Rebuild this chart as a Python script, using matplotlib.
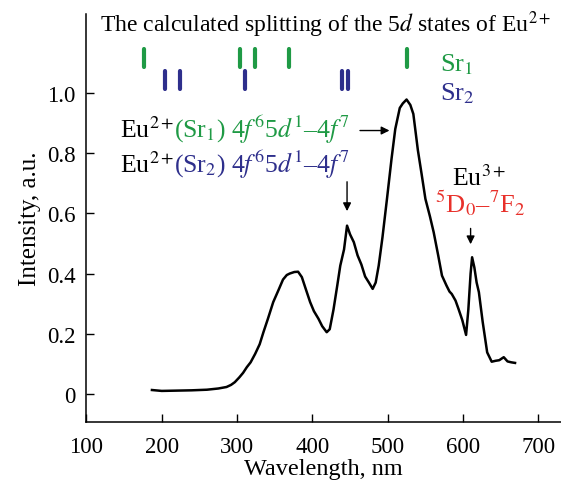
import numpy as np
import matplotlib
matplotlib.use("Agg")
import matplotlib.pyplot as plt
import matplotlib.transforms as mtransforms

GREEN = "#1f9a45"
BLUE = "#2e2f8c"
RED = "#e8302a"

# emission spectrum
wavelength = [187, 200, 220, 240, 260, 275, 286, 292, 297, 303, 308, 313, 318, 324,
              330, 335, 341, 348, 355, 361, 366, 370, 376, 381, 386, 391, 397, 402,
              408, 413, 419, 423, 428, 433, 437, 442, 446, 450, 455, 460, 465, 470,
              475, 480, 484, 488, 493, 499, 505, 510, 516, 520, 525, 530, 534, 540,
              545, 550, 556, 561, 567, 572, 578, 582, 585, 590, 594, 599, 604, 607,
              610, 612, 615, 618, 621, 626, 632, 638, 643, 648, 654, 659, 664, 669]
intensity = [0.013, 0.010, 0.011, 0.012, 0.014, 0.018, 0.023, 0.030, 0.039, 0.055,
             0.070, 0.089, 0.105, 0.133, 0.165, 0.205, 0.250, 0.305, 0.345, 0.380,
             0.395, 0.400, 0.405, 0.406, 0.388, 0.350, 0.305, 0.275, 0.250, 0.225,
             0.205, 0.215, 0.280, 0.360, 0.426, 0.480, 0.559, 0.530, 0.504, 0.460,
             0.430, 0.390, 0.370, 0.349, 0.370, 0.426, 0.520, 0.648, 0.780, 0.880,
             0.950, 0.965, 0.978, 0.960, 0.930, 0.810, 0.730, 0.648, 0.590, 0.537,
             0.460, 0.393, 0.360, 0.340, 0.332, 0.310, 0.282, 0.245, 0.196, 0.280,
             0.400, 0.454, 0.420, 0.370, 0.338, 0.240, 0.138, 0.107, 0.110, 0.112,
             0.122, 0.108, 0.105, 0.103]

# calculated 5d splitting positions, nm
sr1_levels = [176, 304, 324, 369, 526]
sr2_levels = [204, 224, 311, 439, 447]

xticks = [100, 200, 300, 400, 500, 600, 700]
yticks = [0, 0.2, 0.4, 0.6, 0.8, 1.0]
ytick_labels = ["0", "0.2", "0.4", "0.6", "0.8", "1.0"]

plt.rcParams["font.family"] = ["Liberation Serif", "DejaVu Serif"]
plt.rcParams["mathtext.fontset"] = "stix"

fig = plt.figure(figsize=(5.61, 4.85), dpi=100)
ax = fig.add_axes([0.154, 0.128, 0.846, 0.841])

ax.plot(wavelength, intensity, color="black", lw=1.8)

ax.vlines(sr1_levels, 1.086, 1.146, color=GREEN, lw=3, capstyle="round")
ax.vlines(sr2_levels, 1.013, 1.073, color=BLUE, lw=3, capstyle="round")

ax.set_xlim(100, 730)
ax.set_ylim(-0.093, 1.262)
ax.set_xticks(xticks)
ax.set_yticks(yticks)
ax.set_yticklabels(ytick_labels)
ax.tick_params(direction="in", length=6, width=1, labelsize=16.5, pad=8)
ax.tick_params(axis="x", pad=10)
for s in ["top", "right"]:
    ax.spines[s].set_visible(False)
ax.spines["left"].set_linewidth(1.1)
ax.spines["bottom"].set_linewidth(1.1)
ax.set_xlabel("Wavelength, nm", fontsize=17.5, labelpad=1)
ax.set_ylabel("Intensity, a.u.", fontsize=18, labelpad=4)

renderer = fig.canvas.get_renderer()


def colored_text(x, y, pieces, size):
    t = ax.transData
    for s, c in pieces:
        txt = ax.text(x, y, s, color=c, transform=t, va="baseline", ha="left", fontsize=size)
        w = txt.get_window_extent(renderer).width
        t = mtransforms.offset_copy(txt.get_transform(), x=w, units="dots", fig=fig)


ax.text(118, 1.206, "The calculated splitting of the 5$d$ states of Eu$^{2+}$",
        fontsize=17, va="baseline")
ax.text(569, 1.074, "Sr$_1$", color=GREEN, fontsize=19, va="baseline")
ax.text(569, 0.980, "Sr$_2$", color=BLUE, fontsize=19, va="baseline")

colored_text(144, 0.854, [("Eu$^{2+}$", "black"),
                          ("(Sr$_1$) 4$f^6$5$d^1$\u20134$f^7$", GREEN)], 18.5)
colored_text(144, 0.737, [("Eu$^{2+}$", "black"),
                          ("(Sr$_2$) 4$f^6$5$d^1$\u20134$f^7$", BLUE)], 18.5)
ax.text(585.5, 0.695, "Eu$^{3+}$", fontsize=18.5, va="baseline")
ax.text(563, 0.605, "$^5$D$_0$\u2013$^7$F$_2$", color=RED, fontsize=19, va="baseline")

arrow = dict(arrowstyle="-|>", color="black", lw=1, mutation_scale=12)
ax.annotate("", xy=(506, 0.875), xytext=(459.5, 0.875), arrowprops=arrow)
ax.annotate("", xy=(446, 0.598), xytext=(446, 0.714), arrowprops=arrow)
ax.annotate("", xy=(610, 0.488), xytext=(610, 0.559), arrowprops=arrow)

fig.savefig("out.png", dpi=100)
